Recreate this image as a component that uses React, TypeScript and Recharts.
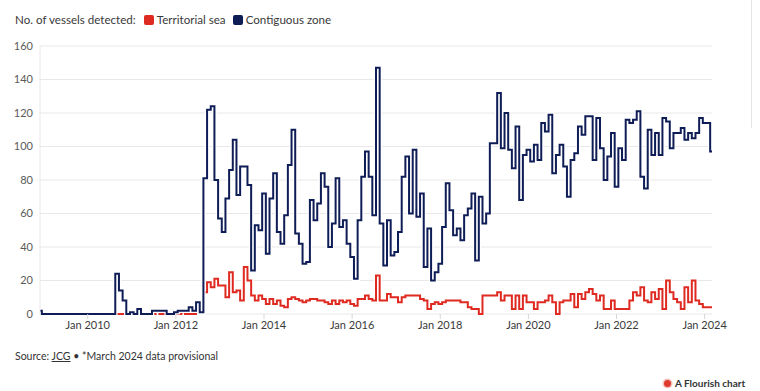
import React from "react";
import { LineChart, Line, XAxis, YAxis, CartesianGrid } from "recharts";

// Monthly counts, Dec 2008 (index 0) .. Mar 2024 (index 183)
const contiguousZone: number[] = [
  2,
  0, 0, 0, 0, 0, 0, 0, 0, 0, 0, 0, 0,
  0, 0, 0, 0, 0, 0, 0, 0, 24, 14, 8, 0,
  1, 0, 3, 0, 0, 0, 2, 2, 2, 2, 0, 0,
  1, 2, 2, 2, 4, 2, 7, 1, 81, 122, 124, 80,
  57, 49, 69, 86, 104, 71, 88, 88, 77, 26, 53, 50,
  72, 36, 69, 84, 49, 42, 59, 89, 110, 48, 42, 30,
  31, 68, 56, 66, 84, 76, 40, 54, 81, 52, 56, 42,
  34, 21, 56, 82, 97, 82, 59, 147, 54, 29, 56, 35,
  37, 49, 82, 94, 60, 98, 58, 72, 28, 51, 20, 25,
  30, 52, 78, 62, 47, 51, 44, 59, 63, 72, 32, 70,
  54, 60, 102, 102, 132, 99, 120, 98, 87, 112, 68, 95,
  98, 91, 101, 92, 114, 109, 119, 84, 95, 101, 88, 70,
  92, 96, 112, 107, 118, 118, 92, 117, 99, 80, 94, 108,
  76, 99, 92, 116, 114, 116, 121, 82, 75, 110, 95, 108,
  95, 117, 115, 99, 108, 108, 111, 104, 108, 105, 108, 117,
  114, 114, 97,
];

const territorialSea: number[] = [
  2,
  0, 0, 0, 0, 0, 0, 0, 0, 0, 0, 0, 0,
  0, 0, 0, 0, 0, 0, 0, 0, 0, 0, 0, 0,
  0, 0, 0, 0, 0, 0, 0, 2, 0, 0, 0, 0,
  0, 0, 1, 0, 0, 0, 4, 1, 13, 19, 16, 21,
  17, 17, 10, 25, 13, 14, 8, 28, 20, 11, 8, 11,
  9, 6, 9, 6, 8, 5, 4, 9, 10, 9, 8, 7,
  8, 9, 9, 8, 8, 7, 6, 8, 6, 8, 7, 8,
  6, 5, 9, 9, 11, 9, 8, 23, 8, 8, 12, 10,
  10, 7, 10, 11, 11, 11, 11, 9, 8, 3, 6, 7,
  6, 7, 8, 8, 8, 8, 7, 7, 4, 3, 3, 0,
  11, 11, 11, 11, 13, 8, 11, 11, 3, 11, 3, 11,
  7, 7, 3, 7, 7, 8, 11, 7, 0, 7, 8, 8,
  12, 4, 12, 9, 13, 15, 12, 8, 11, 3, 3, 8,
  3, 3, 3, 3, 8, 13, 11, 16, 8, 7, 13, 9,
  15, 3, 20, 13, 9, 7, 3, 16, 7, 20, 8, 6,
  4, 4, 4,
];

const xTickIndex: number[] = [13, 37, 61, 85, 109, 133, 157, 181];
const xTickLabels: string[] = [
  "Jan 2010", "Jan 2012", "Jan 2014", "Jan 2016",
  "Jan 2018", "Jan 2020", "Jan 2022", "Jan 2024",
];
const yTicks: number[] = [0, 20, 40, 60, 80, 100, 120, 140, 160];

const RED = "#de2a20";
const NAVY = "#0f1d57";
const FONT = "Lato, 'Source Sans Pro', sans-serif";

const data = contiguousZone.map((v, i) => ({
  i,
  contiguous: v,
  territorial: territorialSea[i],
}));

const formatX = (v: number) => {
  const k = xTickIndex.indexOf(v);
  return k >= 0 ? xTickLabels[k] : "";
};

export default function App() {
  return (
    <div
      style={{
        position: "absolute",
        left: 0,
        top: 0,
        width: 760,
        height: 391,
        background: "#fff",
        fontFamily: FONT,
        overflow: "hidden",
      }}
    >
      <div
        style={{
          position: "absolute",
          left: 15,
          top: 11,
          fontSize: 11.6,
          color: "#3a3a3a",
          display: "flex",
          alignItems: "center",
          whiteSpace: "nowrap",
          lineHeight: "18px",
        }}
      >
        <span>No. of vessels detected:</span>
        <span
          style={{
            display: "inline-block",
            width: 10,
            height: 10,
            borderRadius: 2,
            background: RED,
            marginLeft: 8,
            marginRight: 3,
          }}
        />
        <span>Territorial sea</span>
        <span
          style={{
            display: "inline-block",
            width: 10,
            height: 10,
            borderRadius: 2,
            background: NAVY,
            marginLeft: 7,
            marginRight: 3,
          }}
        />
        <span>Contiguous zone</span>
      </div>

      <div style={{ position: "absolute", left: 0, top: 0 }}>
        <LineChart
          width={760}
          height={391}
          data={data}
          margin={{ top: 46, right: 48, bottom: 47, left: 0 }}
        >
          <CartesianGrid vertical={false} stroke="#e8e8e8" strokeWidth={1} />
          <XAxis
            dataKey="i"
            type="number"
            domain={[0, 183]}
            ticks={xTickIndex}
            tickFormatter={formatX}
            interval={0}
            height={30}
            axisLine={false}
            tickLine={{ stroke: "#d6d6d6" }}
            tickSize={5}
            tickMargin={2}
            tick={{ fontSize: 11, fill: "#3a3a3a", fontFamily: FONT }}
          />
          <YAxis
            domain={[0, 160]}
            ticks={yTicks}
            width={40}
            axisLine={{ stroke: "#e8e8e8" }}
            tickLine={false}
            tickSize={0}
            tickMargin={7}
            tick={{ fontSize: 11, fill: "#5a5a5a", fontFamily: FONT }}
          />
          <Line
            type="step"
            dataKey="territorial"
            stroke="#ffffff"
            strokeWidth={4.5}
            dot={false}
            activeDot={false}
            isAnimationActive={false}
          />
          <Line
            type="step"
            dataKey="territorial"
            stroke={RED}
            strokeWidth={2}
            dot={false}
            activeDot={false}
            isAnimationActive={false}
          />
          <Line
            type="step"
            dataKey="contiguous"
            stroke="#ffffff"
            strokeWidth={4.5}
            dot={false}
            activeDot={false}
            isAnimationActive={false}
          />
          <Line
            type="step"
            dataKey="contiguous"
            stroke={NAVY}
            strokeWidth={2}
            dot={false}
            activeDot={false}
            isAnimationActive={false}
          />
        </LineChart>
      </div>

      <div
        style={{
          position: "absolute",
          left: 15,
          top: 347,
          fontSize: 10.5,
          color: "#333",
          whiteSpace: "nowrap",
          lineHeight: "18px",
        }}
      >
        Source: <span style={{ textDecoration: "underline" }}>JCG</span> • *March 2024 data provisional
      </div>

      <div
        style={{
          position: "absolute",
          left: 664,
          top: 376,
          fontSize: 10,
          fontWeight: 700,
          color: "#333",
          whiteSpace: "nowrap",
          display: "flex",
          alignItems: "center",
          lineHeight: "14px",
        }}
      >
        <span
          style={{
            display: "inline-block",
            width: 7,
            height: 7,
            borderRadius: "50%",
            background: "#e03a2f",
            boxShadow: "0 0 0 1.5px #f3c3bf",
            marginRight: 4,
          }}
        />
        A Flourish chart
      </div>

      <div
        style={{
          position: "absolute",
          left: 751,
          top: 0,
          width: 1,
          height: 128,
          background: "#e4e4e4",
        }}
      />
    </div>
  );
}
